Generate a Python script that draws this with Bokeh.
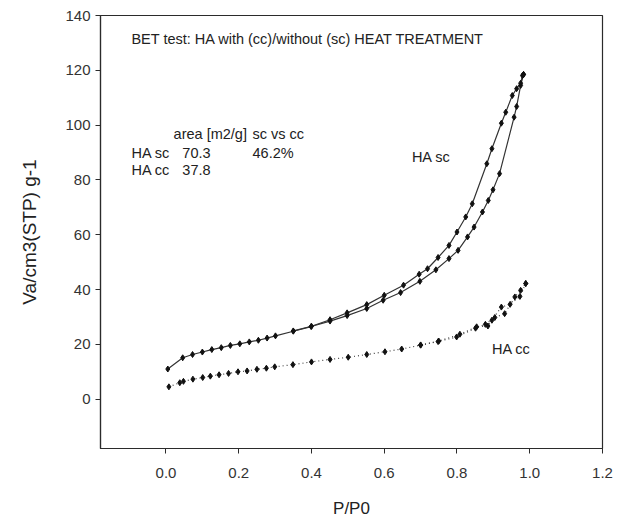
from bokeh.plotting import figure
from bokeh.models import FixedTicker, NumeralTickFormatter, Label
from bokeh.embed import file_html
from bokeh.resources import INLINE

# HA sc (without heat treatment) - adsorption branch
sc_ads_x = [0.005, 0.046, 0.073, 0.100, 0.126, 0.152, 0.177, 0.203, 0.229, 0.254, 0.278, 0.301,
            0.350, 0.399, 0.451, 0.498, 0.552, 0.597, 0.645, 0.698, 0.742, 0.778, 0.803, 0.829,
            0.847, 0.870, 0.886, 0.899, 0.917, 0.957, 0.964, 0.975, 0.983]
sc_ads_y = [11.0, 15.1, 16.3, 17.2, 18.1, 18.8, 19.6, 20.2, 20.9, 21.5, 22.3, 23.1,
            24.8, 26.5, 28.5, 30.5, 33.1, 36.1, 38.9, 43.0, 47.2, 51.3, 54.3, 59.2,
            62.8, 68.3, 72.5, 76.4, 82.3, 102.9, 106.8, 114.5, 118.5]
# HA sc - desorption branch
sc_des_x = [0.983, 0.980, 0.975, 0.964, 0.952, 0.934, 0.922, 0.896, 0.882, 0.842, 0.824, 0.800,
            0.778, 0.748, 0.719, 0.696, 0.653, 0.600, 0.552, 0.498, 0.451, 0.400, 0.350]
sc_des_y = [118.5, 118.1, 115.3, 113.3, 110.8, 104.7, 100.7, 91.4, 85.9, 71.3, 66.5, 61.0,
            56.1, 51.7, 47.6, 45.6, 41.6, 37.9, 34.5, 31.5, 29.0, 26.6, 24.9]

# HA cc (with heat treatment) - adsorption branch
cc_ads_x = [0.008, 0.038, 0.048, 0.074, 0.101, 0.122, 0.146, 0.172, 0.198, 0.223, 0.250, 0.276,
            0.299, 0.349, 0.400, 0.451, 0.501, 0.552, 0.602, 0.648, 0.700, 0.748, 0.799, 0.851,
            0.878, 0.904, 0.931, 0.959, 0.975, 0.989]
cc_ads_y = [4.5, 6.0, 6.5, 7.3, 7.9, 8.4, 8.9, 9.4, 10.0, 10.3, 10.9, 11.3,
            11.8, 12.6, 13.6, 14.5, 15.3, 16.3, 17.3, 18.3, 19.7, 21.0, 22.7, 25.9,
            27.3, 29.8, 31.2, 37.3, 39.7, 42.2]
# HA cc - desorption branch
cc_des_x = [0.989, 0.973, 0.946, 0.922, 0.896, 0.885, 0.854, 0.808, 0.750, 0.700]
cc_des_y = [42.2, 37.5, 34.6, 33.6, 28.8, 26.7, 26.4, 23.7, 21.2, 19.8]

x_ticks = [0.0, 0.2, 0.4, 0.6, 0.8, 1.0, 1.2]
y_ticks = [0, 20, 40, 60, 80, 100, 120, 140]

FONT = "Liberation Sans"
INK = "#2b2b2b"

p = figure(width=626, height=522, x_range=(-0.18, 1.2), y_range=(-18, 140),
           output_backend="svg", toolbar_location=None,
           min_border_left=100, min_border_right=24, min_border_top=15, min_border_bottom=74)
p.background_fill_color = "white"
p.border_fill_color = "white"
p.outline_line_color = INK
p.outline_line_width = 1.2
p.xgrid.visible = False
p.ygrid.visible = False

for ax in (p.xaxis[0], p.yaxis[0]):
    ax.axis_line_color = INK
    ax.axis_line_width = 1.2
    ax.major_tick_line_color = INK
    ax.major_tick_in = 0
    ax.major_tick_out = 5
    ax.minor_tick_line_color = None
    ax.major_label_text_font = FONT
    ax.major_label_text_font_size = "15px"
    ax.major_label_text_color = "#333333"
    ax.axis_label_text_font = FONT
    ax.axis_label_text_font_style = "normal"
    ax.axis_label_text_color = "#222222"

p.xaxis.ticker = FixedTicker(ticks=x_ticks)
p.xaxis.formatter = NumeralTickFormatter(format="0.0")
p.yaxis.ticker = FixedTicker(ticks=y_ticks)
p.xaxis.axis_label = "P/P0"
p.yaxis.axis_label = "Va/cm3(STP) g-1"
p.xaxis.axis_label_text_font_size = "17px"
p.yaxis.axis_label_text_font_size = "19px"
p.xaxis.major_label_standoff = 14
p.yaxis.major_label_standoff = 5
p.xaxis.axis_label_standoff = 18
p.yaxis.axis_label_standoff = 22

# HA sc
p.line(sc_ads_x, sc_ads_y, line_color="#333333", line_width=1.2)
p.line(sc_des_x, sc_des_y, line_color="#333333", line_width=1.2)
p.scatter(sc_ads_x, sc_ads_y, marker="diamond", size=6, color="#111111")
p.scatter(sc_des_x, sc_des_y, marker="diamond", size=6, color="#111111")

# HA cc
p.line(cc_ads_x, cc_ads_y, line_color="#444444", line_width=1.2, line_dash="1 3")
p.line(cc_des_x, cc_des_y, line_color="#444444", line_width=1.2, line_dash="1 3")
p.scatter(cc_ads_x, cc_ads_y, marker="diamond", size=6, color="#111111")
p.scatter(cc_des_x, cc_des_y, marker="diamond", size=6, color="#111111")

texts = [
    ("BET test: HA with (cc)/without (sc) HEAT TREATMENT", -0.095, 131.6),
    ("area [m2/g]", 0.021, 96.6),
    ("sc vs cc", 0.238, 96.6),
    ("HA sc", -0.095, 90.0),
    ("70.3", 0.045, 90.0),
    ("46.2%", 0.238, 90.0),
    ("HA cc", -0.095, 83.5),
    ("37.8", 0.045, 83.5),
    ("HA sc", 0.676, 88.2),
    ("HA cc", 0.896, 18.2),
]
for t, x, y in texts:
    p.add_layout(Label(x=x, y=y, text=t, text_font=FONT, text_font_size="14.5px",
                       text_color="#222222", text_baseline="middle", text_align="left"))

open("out.html", "w").write(file_html(p, INLINE))
